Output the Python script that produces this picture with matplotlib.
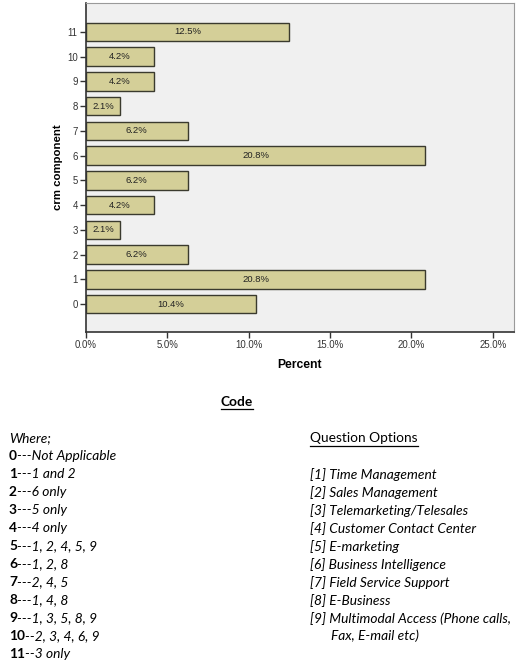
import matplotlib
matplotlib.use("Agg")
import matplotlib.pyplot as plt
from matplotlib.lines import Line2D

W, H = 523, 663

# chart data (percent of respondents per crm component code)
codes = [0, 1, 2, 3, 4, 5, 6, 7, 8, 9, 10, 11]
percent = [10.42, 20.83, 6.25, 2.08, 4.17, 6.25, 20.83, 6.25, 2.08, 4.17, 4.17, 12.5]
x_ticks = [0, 5, 10, 15, 20, 25]

# code legend text
code_nums = ["0", "1", "2", "3", "4", "5", "6", "7", "8", "9", "10", "11"]
code_desc = ["---Not Applicable", "---1 and 2", "---6 only", "---5 only", "---4 only",
             "---1, 2, 4, 5, 9", "---1, 2, 8", "---2, 4, 5", "---1, 4, 8",
             "---1, 3, 5, 8, 9", "--2, 3, 4, 6, 9", "--3 only"]
options = ["[1] Time Management", "[2] Sales Management", "[3] Telemarketing/Telesales",
           "[4] Customer Contact Center", "[5] E-marketing", "[6] Business Intelligence",
           "[7] Field Service Support", "[8] E-Business",
           "[9] Multimodal Access (Phone calls,"]
options_cont = "Fax, E-mail etc)"

BAR = "#d4cf98"
EDGE = "#3a3a2e"

fig = plt.figure(figsize=(W / 100, H / 100), dpi=100)
ax = fig.add_axes([86 / W, 1 - 332 / H, (514 - 86) / W, (332 - 3) / H])
ax.set_facecolor("#f0f0f0")

ax.barh(codes, percent, height=0.75, color=BAR, edgecolor=EDGE, linewidth=1.0, zorder=2)
for c, p in zip(codes, percent):
    ax.text(p / 2, c, f"{p:.1f}%", ha="center", va="center", fontsize=6.8,
            family="Liberation Sans", color="#222222", zorder=3)

ax.set_xlim(0, 26.3)
ax.set_ylim(-1.13, 12.17)
ax.set_yticks(codes)
ax.set_yticklabels([str(c) for c in codes])
ax.set_xticks(x_ticks)
ax.set_xticklabels([f"{t:.1f}%" for t in x_ticks])
ax.tick_params(axis="both", labelsize=6.9, direction="out", length=4, width=1,
               color="#333333", labelcolor="#333333", pad=2)
for lab in ax.get_xticklabels() + ax.get_yticklabels():
    lab.set_family("Liberation Sans")
for side in ["left", "bottom"]:
    ax.spines[side].set_color("#333333")
    ax.spines[side].set_linewidth(1.2)
for side in ["top", "right"]:
    ax.spines[side].set_color("#9a9a9a")
    ax.spines[side].set_linewidth(0.8)

ax.set_ylabel("crm component", fontsize=8.2, fontweight="bold", family="Liberation Sans",
              labelpad=3)
ax.set_xlabel("Percent", fontsize=8.7, fontweight="bold", family="Liberation Sans",
              labelpad=6)

FONT = "Lato"
FS = 9.9


def fx(px):
    return px / W


def fy(py):
    return 1 - py / H


fig.canvas.draw()
renderer = fig.canvas.get_renderer()


def underline(t):
    bb = t.get_window_extent(renderer)
    y = bb.y0 - 1.5
    fig.add_artist(Line2D([bb.x0 / W, bb.x1 / W], [y / H, y / H], color="black",
                          lw=0.9, transform=fig.transFigure))


t = fig.text(fx(237), fy(402), "Code", ha="center", va="center", fontsize=FS,
             fontweight="bold", family=FONT)
underline(t)

fig.text(fx(9), fy(438), "Where;", ha="left", va="center", fontsize=FS,
         style="italic", family=FONT)
for i, (n, d) in enumerate(zip(code_nums, code_desc)):
    y = 456 + i * 18.0
    tn = fig.text(fx(9), fy(y), n, ha="left", va="center", fontsize=FS,
                  fontweight="bold", family=FONT)
    bb = tn.get_window_extent(renderer)
    fig.text(bb.x1 / W, fy(y), d, ha="left", va="center", fontsize=FS,
             style="italic", family=FONT)

t = fig.text(fx(310), fy(438), "Question Options", ha="left", va="center",
             fontsize=FS, family=FONT)
underline(t)
for i, o in enumerate(options):
    fig.text(fx(310), fy(474.5 + i * 18.0), o, ha="left", va="center", fontsize=FS,
             style="italic", family=FONT)
fig.text(fx(331), fy(636), options_cont, ha="left", va="center", fontsize=FS,
         style="italic", family=FONT)

fig.savefig("out.png", dpi=100)
